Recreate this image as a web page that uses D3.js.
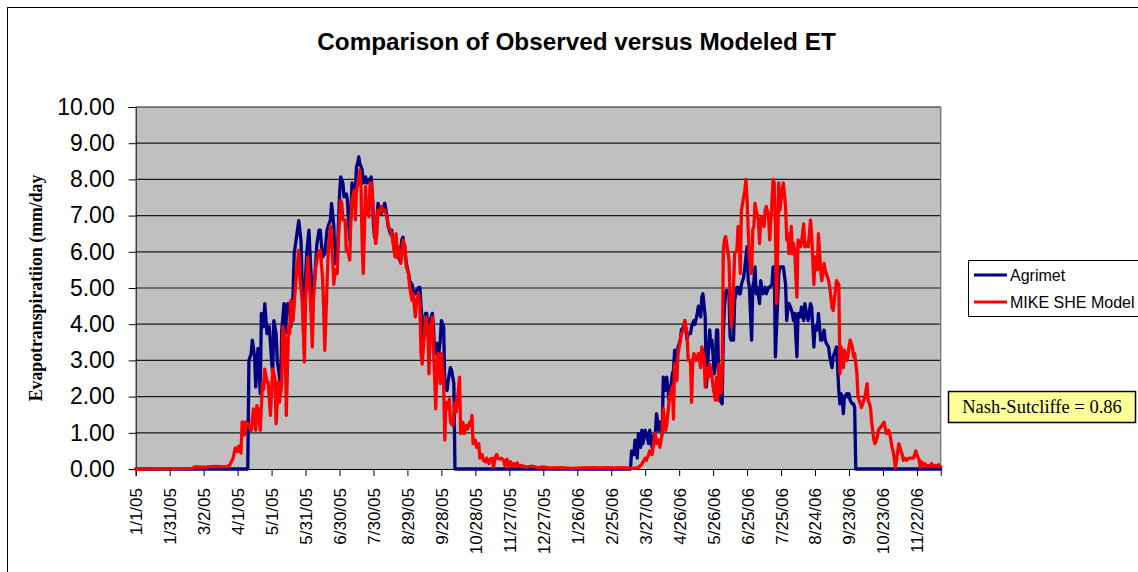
<!DOCTYPE html>
<html><head><meta charset="utf-8">
<script src="https://cdn.jsdelivr.net/npm/d3@7"></script>
<style>body{margin:0;background:#fff}svg{display:block}</style>
</head><body>
<svg id="c" width="1138" height="572"></svg>
<script>
// ---- data (day offset from 1/1/05, value mm/day) ----
const agrimetDays = [0,99,100,102,103,105,106,108,110,111,113,114,116,118,120,121,122,124,125,127,128,129,131,132,134,136,137,139,140,142,144,146,147,149,151,153,154,156,158,160,162,163,165,167,169,171,172,173,175,176,177,178,180,181,183,184,186,187,188,189,190,191,193,194,195,196,197,198,200,201,202,203,204,206,207,208,209,210,211,213,214,216,217,219,220,222,223,225,226,228,229,230,232,233,235,236,238,239,241,242,244,245,247,248,250,251,252,254,256,257,259,260,262,263,264,266,267,269,270,272,273,275,276,278,279,281,282,437,438,440,441,443,444,446,447,448,450,451,453,454,456,457,459,460,462,463,465,466,468,469,471,472,474,475,476,478,479,481,482,484,485,487,488,490,491,493,494,496,497,499,500,501,503,504,505,507,508,509,511,512,513,514,515,516,518,519,520,521,522,524,525,526,527,528,529,531,532,533,534,535,537,538,539,540,541,542,544,545,546,547,548,549,551,552,553,554,556,557,559,560,562,563,564,565,567,568,569,571,572,574,575,576,577,578,580,581,582,584,585,587,588,590,591,593,594,596,597,599,600,602,603,605,606,608,609,610,612,613,615,616,618,619,621,622,623,624,625,626,628,629,630,631,633,634,635,636,711];
const agrimetET = [0,0,3.0,3.19,3.56,3.1,2.27,3.33,2.08,4.3,3.93,4.57,3.74,3.93,3.0,2.63,4.1,3.74,3.0,2.54,2.08,3.84,4.57,3.74,4.57,4.57,3.93,4.85,5.95,6.4,6.86,6.3,5.2,4.57,5.95,6.6,5.95,4.66,5.2,6.2,6.6,6.6,5.85,5.95,6.6,6.8,6.88,7.34,6.7,5.68,6.14,5.86,7.52,8.07,7.9,7.52,7.6,7.43,6.88,6.33,6.97,7.9,7.7,7.7,8.35,8.44,8.62,8.44,8.26,7.9,8.0,8.07,7.9,8.0,7.9,8.07,7.6,6.77,6.4,6.88,7.34,7.15,7.06,7.25,7.34,6.97,6.7,6.5,6.6,6.14,5.95,5.86,5.95,5.77,6.33,6.4,5.95,5.68,5.4,5.2,5.1,4.93,4.84,4.93,5.02,5.02,4.5,3.6,4.3,4.3,3.37,4.1,4.3,3.93,3.19,3.47,3.0,3.56,4.1,3.93,2.36,2.17,2.45,2.8,2.73,2.36,0,0,0.5,0.4,0.8,0.3,0.98,0.6,1.07,0.7,1.07,0.98,0.7,1.07,0.6,0.88,0.98,1.53,1.07,1.3,0.98,2.54,2.17,2.54,1.9,2.08,2.63,2.73,3.28,3.0,3.37,3.56,3.84,3.93,4.1,3.56,3.74,3.74,3.93,4.1,4.0,4.3,4.5,4.2,4.75,4.84,4.2,2.27,2.8,3.84,3.37,3.56,2.63,2.9,3.84,3.84,2.45,1.9,1.8,3.74,4.47,4.84,4.93,4.84,3.65,3.56,3.56,3.56,4.66,5.02,5.02,4.84,4.84,5.1,5.3,5.58,5.86,6.14,5.2,5.02,3.56,5.02,5.2,5.58,4.84,5.02,4.57,5.2,5.02,4.84,5.02,4.84,5.02,5.02,5.1,5.58,5.58,3.1,4.66,5.4,5.58,5.58,5.58,5.1,4.1,4.47,4.57,4.5,4.3,4.1,4.3,3.1,4.3,4.2,4.47,4.1,4.57,4.2,4.1,4.57,4.47,3.37,3.93,3.84,4.3,3.56,3.56,3.84,3.56,3.47,3.37,3.1,2.8,3.1,3.28,3.37,2.17,1.8,2.08,1.99,1.53,1.99,2.08,1.99,2.08,1.9,1.8,1.8,1.7,0,0];

const mikeDays = [0,50,52,60,70,80,83,86,88,90,91,93,94,96,97,99,101,102,104,106,107,108,110,112,113,114,116,117,119,121,123,124,126,127,129,130,132,133,135,136,137,139,141,142,144,145,147,149,150,152,153,155,156,157,159,161,163,165,166,167,169,170,172,173,175,176,178,179,181,182,183,185,186,188,189,190,191,193,194,195,197,198,199,200,201,203,204,206,207,208,210,211,212,213,214,216,217,219,220,222,223,225,226,228,229,230,231,232,234,235,236,238,239,241,242,244,245,247,248,250,251,252,253,255,256,258,259,260,262,263,265,266,267,269,270,272,273,274,275,277,278,280,282,283,285,286,287,289,290,292,293,295,296,297,298,300,301,303,304,306,307,309,310,312,313,315,316,318,319,320,322,323,325,326,328,329,331,332,334,335,337,338,340,345,350,355,360,365,375,385,395,405,410,416,422,428,434,440,444,447,450,451,453,454,456,457,459,460,462,463,465,466,468,469,471,472,474,475,476,478,479,481,482,484,485,487,488,490,491,492,493,495,496,497,499,500,502,503,504,506,507,509,510,512,513,514,515,517,518,519,520,521,522,524,525,526,527,528,529,531,532,533,534,535,537,538,539,540,541,542,544,545,546,547,548,550,551,552,553,555,556,557,559,560,562,563,564,565,566,567,568,569,571,572,574,575,576,577,578,579,580,581,582,584,585,587,588,590,591,593,594,596,597,599,600,602,603,605,606,608,609,610,612,613,615,616,618,619,621,622,623,624,625,626,628,629,630,631,633,634,635,637,638,640,641,643,644,646,647,648,649,650,652,653,655,656,658,659,661,663,665,666,668,669,671,672,674,675,677,678,680,681,683,684,686,687,689,690,692,693,694,696,697,699,700,702,703,705,706,708,709,711];
const mikeET = [0,0.02,0.06,0.05,0.07,0.06,0.1,0.3,0.58,0.48,0.63,0.44,1.3,0.94,1.3,1.25,1.1,1.07,1.66,1.07,1.75,1.66,1.07,2.4,2.2,2.76,2.4,2.4,1.48,2.76,2.5,1.25,2.4,1.84,2.4,3.93,3.56,1.48,3.93,3.74,4.66,4.1,5.0,5.4,6.04,5.3,4.66,2.96,4.66,5.85,5.4,4.2,3.37,4.66,5.55,5.95,6.04,5.3,4.47,3.28,5.1,5.95,6.7,6.5,5.1,5.5,5.4,6.33,7.43,7.34,6.88,6.88,6.04,5.95,5.77,6.88,7.43,7.7,6.88,7.7,8.0,8.26,7.8,6.23,5.4,7.8,7.15,6.97,7.9,7.9,7.15,6.5,6.23,6.5,7.15,7.06,7.25,7.15,7.15,6.97,6.7,6.6,6.5,6.14,5.86,6.5,5.86,6.14,5.68,5.86,6.33,6.14,5.58,5.4,5.02,4.66,4.84,4.2,4.66,4.84,4.5,3.19,2.9,3.74,4.2,3.93,2.63,3.74,4.2,3.37,1.66,2.8,3.19,2.36,3.19,2.36,0.8,1.84,1.66,1.93,1.29,1.2,1.84,1.57,2.17,2.54,0.98,1.29,0.98,1.2,1.1,1.29,1.2,1.48,0.7,0.8,0.6,0.7,0.3,0.4,0.24,0.2,0.3,0.15,0.27,0.3,0.06,0.37,0.4,0.3,0.27,0.3,0.24,0.1,0.27,0.06,0.2,0.1,0.15,0.06,0.17,0.08,0.1,0.05,0.08,0.04,0.06,0.03,0.04,0.02,0.03,0.04,0.03,0.04,0.03,0.04,0.03,0.02,0.04,0.13,0.3,0.24,0.4,0.5,0.4,0.6,0.98,0.7,0.8,0.6,0.98,1.66,1.07,1.2,1.84,2.08,2.27,1.38,2.9,2.45,3.19,3.56,3.74,3.84,4.1,3.74,3.0,3.0,1.84,3.0,3.19,3.0,3.1,3.19,2.8,3.37,3.1,2.27,2.8,2.54,2.9,2.54,2.27,1.9,2.54,1.9,2.9,2.08,2.63,6.04,6.33,6.42,6.23,5.77,4.66,3.93,4.2,5.02,5.95,6.04,6.7,6.33,5.4,7.15,7.52,7.7,8.0,7.43,6.6,5.86,5.4,6.6,6.7,7.34,7.15,6.88,6.23,6.88,6.97,6.7,7.15,7.25,6.97,6.33,7.43,8.0,7.9,6.7,4.57,6.04,7.9,7.15,7.7,7.9,7.25,6.33,6.5,5.95,6.0,6.7,5.95,6.23,6.04,4.75,6.33,6.14,6.23,6.77,6.14,6.23,6.14,6.88,6.5,5.1,5.86,5.5,6.5,5.5,5.2,5.68,5.5,5.4,5.2,5.02,4.47,4.38,4.93,5.2,5.1,2.63,3.37,3.19,2.8,3.28,3.0,3.1,3.37,3.56,3.37,3.1,3.19,2.63,1.99,1.8,1.7,1.9,1.99,2.36,1.9,1.8,1.7,1.3,0.8,0.7,0.88,1.07,1.16,1.2,1.29,0.98,1.07,0.98,0.6,0.5,0.04,0.24,0.7,0.6,0.4,0.24,0.3,0.24,0.3,0.3,0.3,0.3,0.5,0.4,0.24,0.04,0.2,0.1,0.15,0.06,0.1,0.08,0.15,0.06,0.1,0.08,0.12,0.06];

const xTickLabels = ["1/1/05","1/31/05","3/2/05","4/1/05","5/1/05","5/31/05","6/30/05","7/30/05","8/29/05","9/28/05","10/28/05","11/27/05","12/27/05","1/26/06","2/25/06","3/27/06","4/26/06","5/26/06","6/25/06","7/25/06","8/24/06","9/23/06","10/23/06","11/22/06"];
const yTicks = [0,1,2,3,4,5,6,7,8,9,10];
const seriesNames = ["Agrimet","MIKE SHE Model"];
const seriesColors = ["#000080","#FF0000"];

// ---- drawing ----
const svg = d3.select("#c");
const start = new Date(2005,0,1);
const dayToDate = d => d3.timeDay.offset(start, d);
const L = 135.7, R = 940.7, T = 107, B = 469;
const x = d3.scaleTime().domain([start, dayToDate(711)]).range([L, R]);
const y = d3.scaleLinear().domain([0,10]).range([B, T]);
const sans = "'Liberation Sans', Arial, sans-serif";
const serif = "'Liberation Serif', 'Times New Roman', serif";

// outer chart border
svg.append("rect").attr("x",7.5).attr("y",7.5).attr("width",1145).attr("height",590)
  .attr("fill","#fff").attr("stroke","#000").attr("stroke-width",1);

// title
svg.append("text").attr("x",576.5).attr("y",50).attr("text-anchor","middle")
  .attr("font-family",sans).attr("font-weight","bold").attr("font-size",24.3)
  .text("Comparison of Observed versus Modeled ET");

// plot area
svg.append("rect").attr("x",L).attr("y",T).attr("width",R-L).attr("height",B-T).attr("fill","#C0C0C0");

// gridlines
svg.append("g").selectAll("line").data(yTicks.filter(v=>v>0)).join("line")
  .attr("x1",L).attr("x2",R).attr("y1",d=>y(d)).attr("y2",d=>y(d))
  .attr("stroke","#1a1a1a").attr("stroke-width",1.2);
// right border
svg.append("line").attr("x1",R).attr("x2",R).attr("y1",T).attr("y2",B).attr("stroke","#808080").attr("stroke-width",1.5);

// y axis
const yAxis = d3.axisLeft(y).tickValues(yTicks).tickFormat(d3.format(".2f")).tickSize(7).tickPadding(14);
const gy = svg.append("g").attr("transform",`translate(${L},0)`).call(yAxis);
gy.select(".domain").attr("stroke","#000");
gy.selectAll("text").attr("font-family",sans).attr("font-size",23).attr("fill","#000");

// x axis
const parseT = d3.timeParse("%m/%d/%y");
const xAxis = d3.axisBottom(x).tickValues(xTickLabels.map(parseT)).tickFormat((d,i)=>xTickLabels[i]).tickSize(7);
const gx = svg.append("g").attr("transform",`translate(0,${B})`).call(xAxis);
gx.select(".domain").attr("stroke","#000");
gx.selectAll("text").attr("font-family",sans).attr("font-size",17).attr("fill","#000")
  .attr("transform","rotate(-90)").attr("text-anchor","end")
  .attr("x",-19).attr("y",0).attr("dy","0.35em");

// y axis title
svg.append("text").attr("transform","translate(42,288) rotate(-90)").attr("text-anchor","middle")
  .attr("font-family",serif).attr("font-weight","bold").attr("font-size",17.8)
  .text("Evapotranspiratiion (mm/day");

// lines
const line = d3.line().x(d=>x(dayToDate(d[0]))).y(d=>y(d[1])).curve(d3.curveLinear);
const series = [d3.zip(agrimetDays, agrimetET), d3.zip(mikeDays, mikeET)];
svg.append("g").selectAll("path").data(series).join("path")
  .attr("d",line).attr("fill","none").attr("stroke",(d,i)=>seriesColors[i])
  .attr("stroke-width",3.3).attr("stroke-linejoin","round").attr("stroke-linecap","round");

// legend
const lg = svg.append("g");
lg.append("rect").attr("x",968.5).attr("y",260.5).attr("width",200).attr("height",56)
  .attr("fill","#fff").attr("stroke","#000").attr("stroke-width",1);
seriesNames.forEach((n,i)=>{
  const yy = 275 + i*27;
  lg.append("line").attr("x1",974).attr("x2",1007).attr("y1",yy).attr("y2",yy)
    .attr("stroke",seriesColors[i]).attr("stroke-width",3);
  lg.append("text").attr("x",1010).attr("y",yy+6).attr("font-family",sans).attr("font-size",16).text(n);
});

// Nash-Sutcliffe box
svg.append("rect").attr("x",948.5).attr("y",391.5).attr("width",187).attr("height",31)
  .attr("fill","#FFFF99").attr("stroke","#000").attr("stroke-width",1.5);
svg.append("text").attr("x",1042).attr("y",413).attr("text-anchor","middle")
  .attr("font-family",serif).attr("font-size",18.5).text("Nash-Sutcliffe = 0.86");
</script>
</body></html>
